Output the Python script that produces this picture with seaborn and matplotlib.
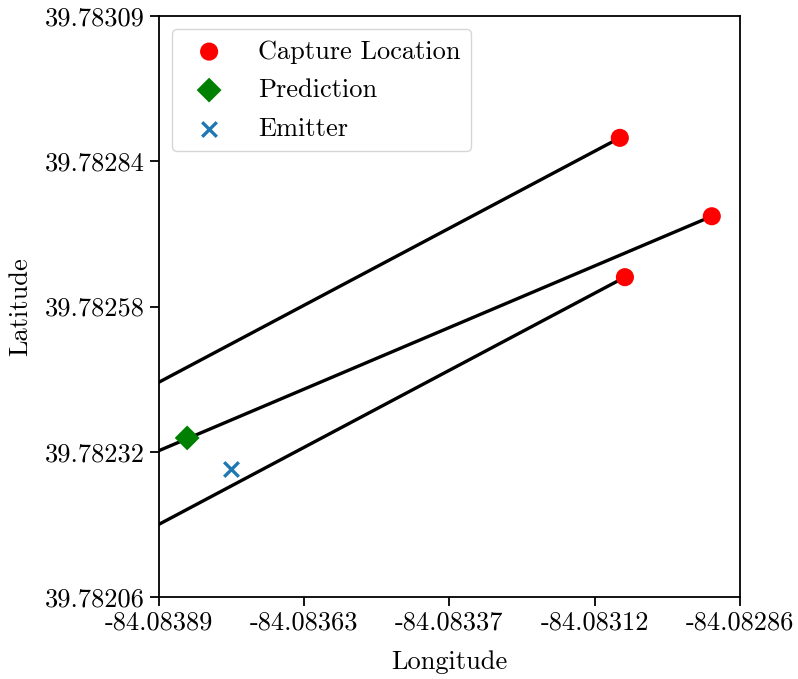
import matplotlib
matplotlib.use("Agg")
import matplotlib.pyplot as plt
import numpy as np
import pandas as pd
import seaborn as sns

plt.rcParams["font.family"] = "cmr10"
plt.rcParams["mathtext.fontset"] = "cm"
plt.rcParams["axes.unicode_minus"] = False
plt.rcParams["font.size"] = 19

# Receiver capture positions
capture_lon = [-84.083073, -84.082910, -84.083064]
capture_lat = [39.782874, 39.782735, 39.782627]

# Far ends of each bearing line (running off the left edge)
bearing_end_lon = [-84.08395, -84.08395, -84.08395]
bearing_end_lat = [39.782409, 39.782294, 39.782157]

# Estimated and true emitter positions
prediction_lon = [-84.083840]
prediction_lat = [39.782342]
emitter_lon = [-84.083762]
emitter_lat = [39.782287]

# Axis extent and tick labels
lon_limits = [-84.08389, -84.08286]
lat_limits = [39.78206, 39.78309]
lon_tick_labels = ["-84.08389", "-84.08363", "-84.08337", "-84.08312", "-84.08286"]
lat_tick_labels = ["39.78206", "39.78232", "39.78258", "39.78284", "39.78309"]

bearings = pd.DataFrame({
    "lon": [v for pair in zip(capture_lon, bearing_end_lon) for v in pair],
    "lat": [v for pair in zip(capture_lat, bearing_end_lat) for v in pair],
    "line": np.repeat(np.arange(len(capture_lon)), 2),
})

fig = plt.figure(figsize=(7.98, 6.79), dpi=100)
ax = fig.add_axes([0.1992, 0.1208, 0.7281, 0.8556])

sns.lineplot(data=bearings, x="lon", y="lat", units="line", estimator=None,
             sort=False, color="black", linewidth=2.4, legend=False, ax=ax, zorder=2)

sns.scatterplot(x=capture_lon, y=capture_lat, color="red", marker="o", s=170,
                edgecolor="none", label="Capture Location", ax=ax, zorder=3)
sns.scatterplot(x=prediction_lon, y=prediction_lat, color="green", marker="D", s=160,
                edgecolor="none", label="Prediction", ax=ax, zorder=3)
sns.scatterplot(x=emitter_lon, y=emitter_lat, color="#1f77b4", marker="x", s=110,
                linewidth=2.4, label="Emitter", ax=ax, zorder=3)

ax.set_xlim(lon_limits)
ax.set_ylim(lat_limits)
ax.set_xticks(np.linspace(*lon_limits, len(lon_tick_labels)))
ax.set_xticklabels(lon_tick_labels)
ax.set_yticks(np.linspace(*lat_limits, len(lat_tick_labels)))
ax.set_yticklabels(lat_tick_labels)
ax.set_xlabel("Longitude", labelpad=11)
ax.set_ylabel("Latitude", labelpad=9)

for spine in ax.spines.values():
    spine.set_linewidth(1.3)
ax.tick_params(direction="out", length=6.5, width=1.3, labelsize=19)

ax.legend(loc="upper left", fontsize=19, frameon=True, edgecolor="0.8",
          handletextpad=0.86, borderpad=0.4, labelspacing=0.56)

fig.savefig("out.png", dpi=100)
